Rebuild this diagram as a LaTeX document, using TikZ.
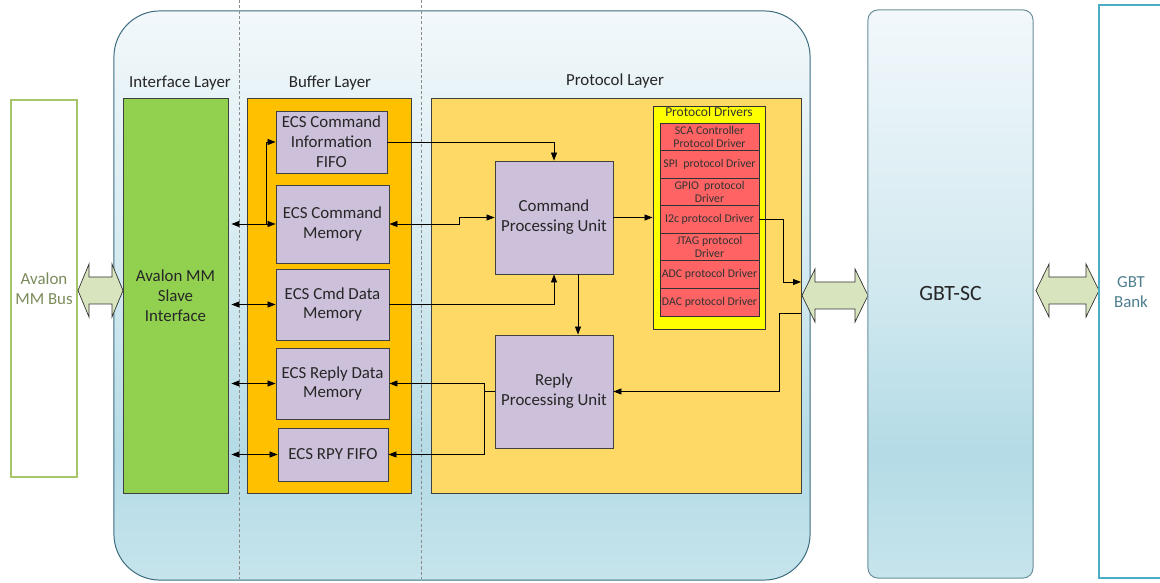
\documentclass[tikz,border=0pt]{standalone}
\usepackage{fontspec}
\setmainfont{Carlito}
\usepackage{xcolor}
\usepackage{tikz}
\usetikzlibrary{positioning,calc,arrows.meta}

\definecolor{ifcgreen}{HTML}{92D050}
\definecolor{bufgold}{HTML}{FFC000}
\definecolor{protgold}{HTML}{FFD966}
\definecolor{lavender}{HTML}{CCC0DA}
\definecolor{drvred}{HTML}{FF6363}
\definecolor{drvyellow}{HTML}{FFFF00}
\definecolor{busgreen}{HTML}{A8C46C}
\definecolor{bustext}{HTML}{7A8B5A}
\definecolor{banktext}{HTML}{4E7D8E}
\definecolor{bankline}{HTML}{4BACC6}
\definecolor{panelline}{HTML}{3A6B7E}
\definecolor{gbtline}{HTML}{6A8E9A}
\definecolor{arrowfill}{HTML}{D7E4BD}
\definecolor{txt}{HTML}{262626}
\definecolor{paneltop}{HTML}{F2F8FB}
\definecolor{panelmid}{HTML}{D0E8EF}
\definecolor{panellow}{HTML}{B4DBE6}
\definecolor{panelbot}{HTML}{C6E4EC}

\pgfdeclareverticalshading{panel}{100bp}{color(0bp)=(panelbot); color(25bp)=(panelbot); color(36bp)=(panellow); color(50bp)=(panelmid); color(75bp)=(paneltop); color(100bp)=(paneltop)}

\tikzset{
    layer/.style={draw=black!75, line width=0.6pt, inner sep=0pt},
    unit/.style={draw=black!75, fill=lavender, line width=0.6pt, align=center, inner sep=0pt,
        font=\fontsize{12}{14.2}\selectfont, text=txt},
    drvrow/.style={draw=black!80, fill=drvred, line width=0.5pt, minimum width=2.475cm,
        minimum height=0.689cm, align=center, inner sep=0pt, font=\fontsize{8.4}{8.8}\selectfont, text=black!80},
    laylabel/.style={font=\fontsize{12}{14}\selectfont, text=txt},
    link/.style={-{Triangle[length=0.2cm,width=0.15cm]}, line width=0.6pt},
    link2/.style={{Triangle[length=0.2cm,width=0.15cm]}-{Triangle[length=0.2cm,width=0.15cm]}, line width=0.6pt},
    fatarrow/.style={draw=black!80, fill=arrowfill, line width=0.5pt},
}

\begin{document}
\begin{tikzpicture}[x=0.025cm, y=-0.025cm]
    \useasboundingbox (0,0) rectangle (1160,583);

    % FPGA side
    \node[draw=panelline, line width=0.7pt, shading=panel, rounded corners=1.15cm,
        minimum width=17.4cm, minimum height=14.225cm] (fpga) at (462,295.5) {};
    \foreach \x in {239,421} {
        \draw[black!45, line width=0.5pt, dash pattern=on 2.2pt off 1.6pt] (\x,0) -- (\x,579);
    }

    % Bus and links
    \node[draw=busgreen, line width=1.4pt, minimum width=1.65cm, minimum height=9.425cm,
        align=center, text=bustext, font=\fontsize{12}{14.2}\selectfont] (bus) at (44,288.5) {Avalon\\MM Bus};
    \foreach \xl/\xa/\xb/\xr/\yc in {78/89/112/123/290.5, 802/815/855/868/295.5, 1036/1049/1086/1099/290.5} {
        \draw[fatarrow] (\xl,\yc) -- (\xa,{\yc-26.5}) -- (\xa,{\yc-13.5}) -- (\xb,{\yc-13.5})
            -- (\xb,{\yc-26.5}) -- (\xr,\yc) -- (\xb,{\yc+26.5}) -- (\xb,{\yc+13.5})
            -- (\xa,{\yc+13.5}) -- (\xa,{\yc+26.5}) -- cycle;
    }

    % Layers
    \node[laylabel] (ifclbl) at (180,83) {Interface Layer};
    \node[laylabel] (buflbl) at (330,83) {Buffer Layer};
    \node[laylabel] (protlbl) at (615,81) {Protocol Layer};
    \node[layer, fill=ifcgreen, minimum width=2.625cm, minimum height=9.875cm, align=center,
        text=txt, font=\fontsize{12}{14.2}\selectfont] (ifc) at (175.5,295.5) {Avalon MM\\Slave\\Interface};
    \node[layer, fill=bufgold, minimum width=4.1cm, minimum height=9.875cm] (buf) at (329,295.5) {};
    \node[layer, fill=protgold, minimum width=9.25cm, minimum height=9.875cm] (proto) at (616,295.5) {};

    % Buffers
    \node[unit, minimum width=2.775cm, minimum height=1.55cm] (fifo) at (331.5,142) {ECS Command\\Information\\FIFO};
    \node[unit, minimum width=2.825cm, minimum height=1.95cm] (cmdmem) at (332.5,224) {ECS Command\\Memory};
    \node[unit, minimum width=2.825cm, minimum height=1.775cm] (datmem) at (332.5,304.5) {ECS Cmd Data\\Memory};
    \node[unit, minimum width=2.825cm, minimum height=1.775cm] (rplmem) at (332.5,383.5) {ECS Reply Data\\Memory};
    \node[unit, minimum width=2.75cm, minimum height=1.325cm] (rpyfifo) at (333,454.5) {ECS RPY FIFO};

    % Protocol
    \node[unit, minimum width=2.95cm, minimum height=2.825cm] (cpu) at (554,217.5) {Command\\Processing Unit};
    \node[unit, minimum width=2.95cm, minimum height=2.825cm] (rpu) at (554,391.5) {Reply\\Processing Unit};
    \node[layer, draw=black!80, fill=drvyellow, minimum width=2.8cm, minimum height=5.575cm] (drv) at (709,217.5) {};
    \node[font=\fontsize{9.6}{10}\selectfont, text=black!80, inner sep=0pt] (drvlbl) at (709,112) {Protocol Drivers};
    \foreach \txt [count=\i] in {{SCA Controller\\Protocol Driver}, {SPI~ protocol Driver}, {GPIO~ protocol\\Driver},
        {I2c protocol Driver}, {JTAG protocol\\Driver}, {ADC protocol Driver}, {DAC protocol Driver}} {
        \node[drvrow] (d\i) at (709.5,{123+27.57*(\i-0.5)}) {\txt};
    }

    % Connections
    \foreach \m in {cmdmem,datmem,rplmem,rpyfifo} {
        \draw[link2, shorten <=0.075cm] (ifc.east |- \m.west) -- (\m.west);
    }
    \draw[link] ([xshift=-0.225cm]cmdmem.west) |- (fifo.west);
    \draw[link2] (cmdmem.east) -- ++(70,0) |- (cpu.west);
    \draw[link] (fifo.east) -| (cpu.north);
    \draw[link] (datmem.east) -| (cpu.south);
    \draw[link] ([xshift=0.6cm]cpu.south) -- ([xshift=0.6cm]rpu.north);
    \draw[line width=0.6pt] (rpu.west) -- ++(-10,0) coordinate (split);
    \draw[link] (split) |- (rplmem.east);
    \draw[link] (split) |- (rpyfifo.east);
    \draw[link] (cpu.east) -- (drv.west);
    \coordinate (tosc) at (801,282);
    \coordinate (fromsc) at (801,313);
    \draw[link] (d4.east) -- ++(24,0) |- (tosc);
    \draw[link] (fromsc) -- ++(-22,0) |- (rpu.east);

    % GBT side
    \node[draw=gbtline, line width=0.7pt, shading=panel, rounded corners=0.25cm, minimum width=4.125cm,
        minimum height=14.2cm, text=txt, font=\fontsize{15.5}{18}\selectfont] (gbtsc) at (950.5,294) {GBT-SC};
    \node[draw=bankline, line width=1.4pt, minimum width=2.025cm, minimum height=14.325cm] (bank) at (1139.5,291.5) {};
    \node[align=center, text=banktext, font=\fontsize{12}{14.2}\selectfont] (banklbl) at (1131,292) {GBT\\Bank};
\end{tikzpicture}
\end{document}
